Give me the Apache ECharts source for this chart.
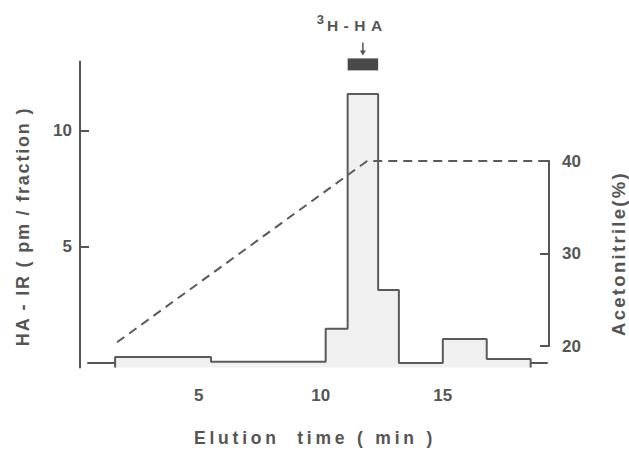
<!DOCTYPE html>
<html>
<head>
<meta charset="utf-8">
<script src="https://cdn.jsdelivr.net/npm/echarts@6/dist/echarts.min.js"></script>
<style>
  html, body { margin: 0; padding: 0; background: #fff; }
  #chart { width: 629px; height: 454px; }
  /* tracked (letter-spaced) titles as in the original figure */
  #chart text[style*="17.5px"] { letter-spacing: 3.8px; }
  #chart text[style*="18px"] { letter-spacing: 1.8px; }
  #chart text[style*="18.5px"] { letter-spacing: 2.3px; }
  #chart text[style*="15.5px"] { letter-spacing: 5.5px; }
</style>
</head>
<body>
<div id="chart"></div>
<script>
// ---- data ----
const fractionEdges = [1.57, 5.5, 10.2, 11.1, 12.35, 13.2, 15.0, 16.8, 18.6]; // min
const haIR = [0.26, 0.05, 1.47, 11.6, 3.15, 0.0, 1.03, 0.17];              // pm/fraction
const gradientTime = [1.65, 11.9, 19.3];                                      // min
const gradientAcn = [20.4, 40, 40];                                           // %
const xTickValues = [5, 10, 15];
const leftTickValues = [5, 10];
const rightTickValues = [20, 30, 40];
const tritiumFraction = [11.1, 12.35];   // min, marked 3H-HA

// ---- build ----
const Y_MIN = -0.2, Y_MAX = 13;
const X_MIN = 0.46, X_MAX = 19.27;
const stepData = [[fractionEdges[0], Y_MIN]];
for (let i = 0; i < haIR.length; i++) {
  stepData.push([fractionEdges[i], haIR[i]]);
  stepData.push([fractionEdges[i + 1], haIR[i]]);
}
stepData.push([fractionEdges[fractionEdges.length - 1], Y_MIN]);
const gradData = gradientTime.map((t, i) => [t, gradientAcn[i]]);

const INK = '#555';
const FONT = 'Liberation Sans';
const tickStyle = { color: INK, fontSize: 17, fontWeight: 'bold', fontFamily: FONT };
const xNameStyle = { color: INK, fontSize: 17.5, fontWeight: 'bold', fontFamily: FONT };
const leftNameStyle = { color: INK, fontSize: 18, fontWeight: 'bold', fontFamily: FONT };
const rightNameStyle = { color: INK, fontSize: 18.5, fontWeight: 'bold', fontFamily: FONT };

const chart = echarts.init(document.getElementById('chart'), null, { renderer: 'svg' });
chart.setOption({
  animation: false,
  backgroundColor: '#fff',
  grid: [
    { left: 88, right: 82, top: 61.4, bottom: 86.4, containLabel: false, outerBoundsMode: 'none' },
    { left: 88, right: 82, top: 161, bottom: 108, containLabel: false, outerBoundsMode: 'none' }
  ],
  xAxis: [
    {
      type: 'value', gridIndex: 0, min: X_MIN, max: X_MAX,
      axisLine: { show: true, lineStyle: { color: INK, width: 2 } },
      axisTick: { show: false },
      splitLine: { show: false },
      axisLabel: Object.assign({ customValues: xTickValues, margin: 19 }, tickStyle),
      name: 'Elution  time ( min )',
      nameLocation: 'middle',
      nameGap: 61,
      nameTextStyle: Object.assign({ padding: [0, 5, 0, 0] }, xNameStyle)
    },
    {
      type: 'value', gridIndex: 1, min: X_MIN, max: X_MAX, show: false
    }
  ],
  yAxis: [
    {
      type: 'value', gridIndex: 0, min: Y_MIN, max: Y_MAX, offset: 8,
      axisLine: { show: true, lineStyle: { color: INK, width: 2 } },
      axisTick: { show: true, inside: true, length: 9, customValues: leftTickValues, lineStyle: { color: INK, width: 2 } },
      splitLine: { show: false },
      axisLabel: Object.assign({ customValues: leftTickValues, margin: 8 }, tickStyle),
      name: 'HA - IR ( pm / fraction )',
      nameLocation: 'middle',
      nameRotate: 90,
      nameGap: 48,
      nameTextStyle: Object.assign({ padding: [0, 24, 0, 0] }, leftNameStyle)
    },
    {
      type: 'value', gridIndex: 1, position: 'right', min: 20, max: 40, interval: 10, offset: 2,
      axisLine: { show: true, lineStyle: { color: INK, width: 2 } },
      axisTick: { show: true, inside: true, length: 9, customValues: rightTickValues, lineStyle: { color: INK, width: 2 } },
      splitLine: { show: false },
      axisLabel: Object.assign({ customValues: rightTickValues, margin: 13 }, tickStyle),
      name: 'Acetonitrile(%)',
      nameLocation: 'middle',
      nameRotate: 90,
      nameGap: 60,
      nameTextStyle: rightNameStyle
    }
  ],
  series: [
    {
      type: 'line', xAxisIndex: 0, yAxisIndex: 0,
      data: stepData, showSymbol: false, symbol: 'none',
      lineStyle: { color: '#5a5a5a', width: 2 },
      areaStyle: { color: '#f0f0f0', opacity: 1, origin: 'start' },
      z: 2
    },
    {
      type: 'line', xAxisIndex: 1, yAxisIndex: 1,
      data: gradData, showSymbol: false, symbol: 'none', clip: false,
      lineStyle: { color: '#5a5a5a', width: 2, type: [9, 6] },
      z: 3
    },
    {
      type: 'custom', xAxisIndex: 0, yAxisIndex: 0, clip: false,
      data: [[tritiumFraction[0], tritiumFraction[1]]],
      renderItem: function (params, api) {
        const x0 = api.value(0), x1 = api.value(1);
        const a = api.coord([x0, Y_MAX]);
        const b = api.coord([x1, Y_MAX]);
        const cx = (a[0] + b[0]) / 2;
        const top = a[1] - 3;
        return {
          type: 'group',
          children: [
            { type: 'rect', shape: { x: a[0], y: top, width: b[0] - a[0], height: 12 },
              style: { fill: '#4a4a4a' } },
            { type: 'line', shape: { x1: cx, y1: top - 16, x2: cx, y2: top - 6 },
              style: { stroke: INK, lineWidth: 1.5 } },
            { type: 'polygon', shape: { points: [[cx - 3, top - 8], [cx + 3, top - 8], [cx, top - 3]] },
              style: { fill: INK } },
            { type: 'text',
              style: { text: '3', x: cx - 39, y: top - 45, align: 'right', verticalAlign: 'top',
                fill: INK, fontSize: 13, fontWeight: 'bold', fontFamily: FONT } },
            { type: 'text',
              style: { text: 'H-HA', x: cx - 36, y: top - 41, align: 'left', verticalAlign: 'top',
                fill: INK, fontSize: 15.5, fontWeight: 'bold', fontFamily: FONT } }
          ]
        };
      },
      z: 4
    }
  ]
});
</script>
</body>
</html>
